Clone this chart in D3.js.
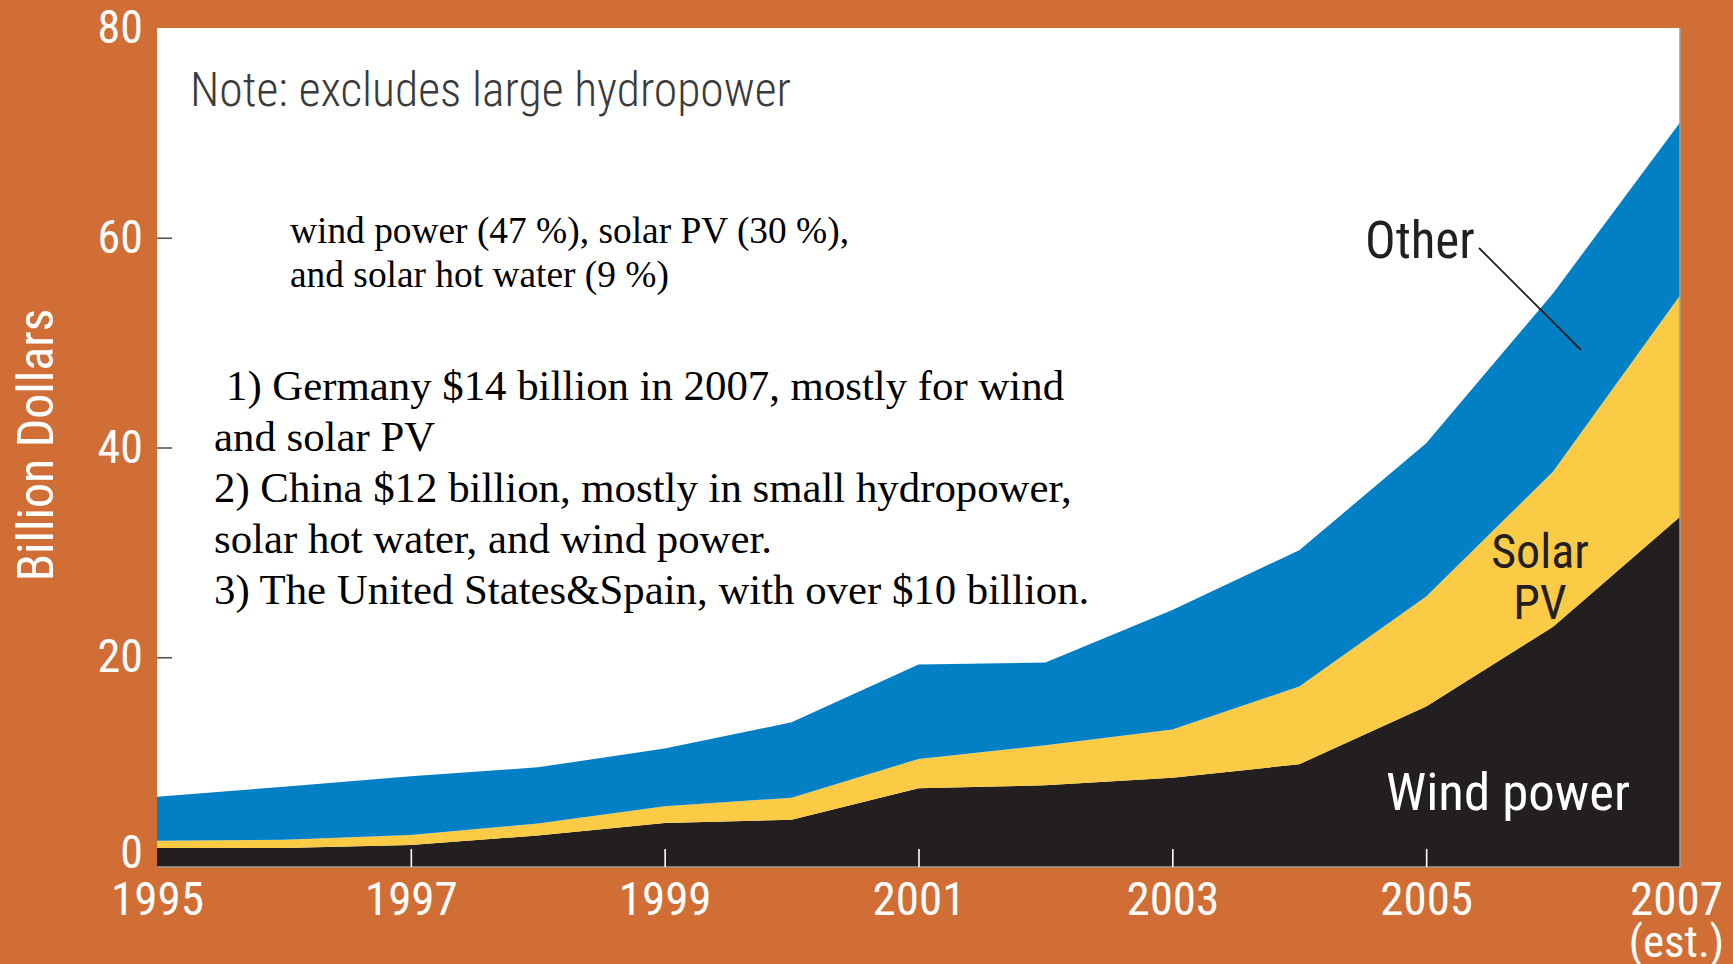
<!DOCTYPE html>
<html>
<head>
<meta charset="utf-8">
<script src="https://cdn.jsdelivr.net/npm/d3@7/dist/d3.min.js"></script>
<style>
  html, body { margin: 0; padding: 0; background: #D16E36; }
  svg { display: block; }
  .cond { font-family: "Liberation Sans Narrow", "Roboto Condensed", "DejaVu Sans Condensed", sans-serif; }
  .serif { font-family: "Liberation Serif", "Times New Roman", serif; }
</style>
</head>
<body>
<svg id="chart" width="1733" height="964"></svg>
<script>
// Global investment in new renewable energy capacity, billion dollars
const years   = [1995, 1996, 1997, 1998, 1999, 2000, 2001, 2002, 2003, 2004, 2005, 2006, 2007];
const windPower = [1.8, 1.8, 2.1, 3.0, 4.2, 4.5, 7.5, 7.8, 8.5, 9.8, 15.3, 22.9, 33.4];
const solarPV   = [0.7, 0.8, 0.95, 1.15, 1.6, 2.1, 2.8, 3.8, 4.6, 7.4, 10.5, 14.8, 21.1];
const other     = [4.2, 5.05, 5.6, 5.35, 5.5, 7.2, 9.0, 7.9, 11.4, 13.0, 14.6, 17.0, 16.5];

const seriesKeys   = ["wind", "solar", "other"];
const seriesColors = ["#231F20", "#FCCB45", "#0280C6"];

const yTicks = [0, 20, 40, 60, 80];
const xTicks = [1995, 1997, 1999, 2001, 2003, 2005, 2007];

const noteText = "Note: excludes large hydropower";
const shareLines = ["wind power (47 %), solar PV (30 %),", "and solar hot water (9 %)"];
const countryLines = [
  "1) Germany $14 billion in 2007, mostly for wind",
  "and solar PV",
  "2) China $12 billion, mostly in small hydropower,",
  "solar hot water, and wind power.",
  "3) The United States&Spain, with over $10 billion."
];

const rows = years.map((yr, i) => ({ year: yr, wind: windPower[i], solar: solarPV[i], other: other[i] }));

const svg = d3.select("#chart");
const plot = { left: 157, right: 1680, top: 28, bottom: 867 };

const x = d3.scaleLinear().domain([1995, 2007]).range([plot.left, plot.right]);
const y = d3.scaleLinear().domain([0, 80]).range([plot.bottom, plot.top]);

// plot background
svg.append("rect")
  .attr("x", plot.left).attr("y", plot.top)
  .attr("width", plot.right - plot.left).attr("height", plot.bottom - plot.top)
  .attr("fill", "#ffffff");

// stacked areas
const stack = d3.stack().keys(seriesKeys);
const layers = stack(rows);
const area = d3.area()
  .x(d => x(d.data.year))
  .y0(d => y(d[0]))
  .y1(d => y(d[1]));

svg.append("g").selectAll("path")
  .data(layers)
  .join("path")
  .attr("d", area)
  .attr("fill", (d, i) => seriesColors[i]);

// frame lines: right edge and baseline
svg.append("line")
  .attr("x1", plot.right).attr("x2", plot.right)
  .attr("y1", plot.top).attr("y2", plot.bottom)
  .attr("stroke", "#a39f8c").attr("stroke-width", 1.5);
svg.append("line")
  .attr("x1", plot.left).attr("x2", plot.right)
  .attr("y1", plot.bottom).attr("y2", plot.bottom)
  .attr("stroke", "#a39f8c").attr("stroke-width", 1.5);

// y axis
const yAxis = svg.append("g")
  .attr("class", "cond")
  .attr("transform", `translate(${plot.left},0)`)
  .call(d3.axisLeft(y).tickValues(yTicks).tickSize(-15).tickPadding(14).tickFormat(d3.format("d")));
yAxis.select(".domain").remove();
yAxis.selectAll(".tick line")
  .attr("stroke", "#555").attr("stroke-width", 1.6)
  .attr("display", d => (d === 0 || d === 80) ? "none" : null);
yAxis.selectAll(".tick text")
  .attr("fill", "#ffffff").attr("font-size", 46)
  .attr("y", d => d === 0 ? -14 : 0);

// x axis
const xAxis = svg.append("g")
  .attr("class", "cond")
  .attr("transform", `translate(0,${plot.bottom})`)
  .call(d3.axisBottom(x).tickValues(xTicks).tickSize(-18).tickPadding(15).tickFormat(d3.format("d")));
xAxis.select(".domain").remove();
xAxis.selectAll(".tick line")
  .attr("stroke", "#ffffff").attr("stroke-width", 1.6)
  .attr("display", d => (d === 1995 || d === 2007) ? "none" : null);
xAxis.selectAll(".tick text")
  .attr("fill", "#ffffff").attr("font-size", 47)
  .attr("x", d => d === 2007 ? -4 : 0);
xAxis.selectAll(".tick").filter(d => d === 2007)
  .append("text")
  .attr("x", -4).attr("y", 90)
  .attr("fill", "#ffffff").attr("font-size", 45)
  .attr("text-anchor", "middle")
  .text("(est.)");

// y axis title
svg.append("text")
  .attr("class", "cond")
  .attr("transform", "translate(53,445) rotate(-90)")
  .attr("text-anchor", "middle")
  .attr("fill", "#ffffff").attr("font-size", 50)
  .text("Billion Dollars");

// note
svg.append("text")
  .attr("class", "cond")
  .attr("x", 190).attr("y", 106)
  .attr("fill", "#3b3b3b").attr("font-size", 48).attr("font-weight", 300)
  .attr("textLength", 601).attr("lengthAdjust", "spacingAndGlyphs")
  .text(noteText);

// share annotation
svg.append("g").attr("class", "serif")
  .selectAll("text").data(shareLines).join("text")
  .attr("x", 290).attr("y", (d, i) => 242.5 + i * 44)
  .attr("font-size", 37.4).attr("fill", "#000")
  .text(d => d);

// country annotation (first line sits slightly indented)
svg.append("g").attr("class", "serif")
  .selectAll("text").data(countryLines).join("text")
  .attr("x", (d, i) => i === 0 ? 226 : 214)
  .attr("y", (d, i) => 400 + i * 51)
  .attr("font-size", 42.8).attr("fill", "#000")
  .text(d => d);

// series labels
const labels = svg.append("g").attr("class", "cond");
labels.append("text")
  .attr("x", 1365).attr("y", 258)
  .attr("font-size", 51).attr("fill", "#231F20")
  .text("Other");
labels.append("line")
  .attr("x1", 1479).attr("y1", 248).attr("x2", 1581).attr("y2", 350)
  .attr("stroke", "#231F20").attr("stroke-width", 1.8);
labels.append("text")
  .attr("x", 1540).attr("y", 568).attr("text-anchor", "middle")
  .attr("font-size", 48).attr("fill", "#231F20")
  .text("Solar");
labels.append("text")
  .attr("x", 1540).attr("y", 619).attr("text-anchor", "middle")
  .attr("font-size", 48).attr("fill", "#231F20")
  .text("PV");
labels.append("text")
  .attr("x", 1386).attr("y", 810)
  .attr("font-size", 52).attr("fill", "#ffffff")
  .attr("textLength", 244).attr("lengthAdjust", "spacingAndGlyphs")
  .text("Wind power");
</script>
</body>
</html>
